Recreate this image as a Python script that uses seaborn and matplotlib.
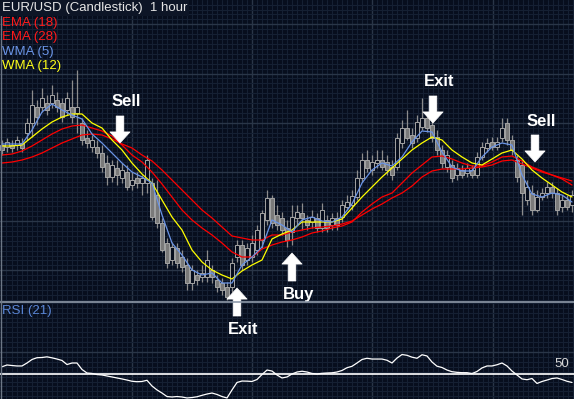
import numpy as np
import pandas as pd
import matplotlib
matplotlib.use("Agg")
import matplotlib.pyplot as plt
import seaborn as sns

# ---------------- data (prices as pips above 1.3000) ----------------
BASE = 1.3
open_pips = [557, 555, 557, 557, 559, 569, 579, 595, 595, 599,
             599, 602, 599, 592, 595, 589, 579, 564, 555, 555,
             549, 539, 525, 534, 524, 530, 517, 524, 519, 519,
             519, 507, 479, 459, 442, 454, 445, 437, 419, 427,
             425, 425, 432, 422, 419, 415, 415, 445, 457, 442,
             445, 452, 462, 482, 504, 487, 484, 474, 470, 484,
             489, 482, 480, 484, 474, 482, 477, 484, 485, 495,
             497, 505, 524, 542, 532, 539, 542, 540, 535, 535,
             559, 574, 567, 564, 575, 584, 577, 565, 552, 535,
             537, 527, 532, 529, 532, 527, 545, 554, 560, 555,
             564, 579, 562, 542, 537, 502, 509, 492, 505, 509,
             515, 509, 495, 502, 497]
close_pips = [552, 560, 554, 562, 554, 579, 597, 585, 604, 592,
              607, 595, 585, 604, 585, 595, 562, 559, 562, 549,
              535, 525, 537, 527, 532, 515, 522, 519, 524, 542,
              485, 479, 452, 439, 455, 439, 435, 419, 432, 422,
              429, 442, 425, 415, 412, 405, 439, 457, 437, 454,
              459, 472, 489, 504, 479, 477, 472, 462, 485, 490,
              484, 477, 485, 474, 492, 474, 484, 477, 497, 500,
              506, 524, 542, 534, 540, 542, 535, 532, 527, 564,
              574, 564, 559, 580, 584, 574, 564, 552, 539, 547,
              524, 534, 527, 534, 527, 545, 555, 559, 555, 560,
              574, 562, 552, 525, 509, 515, 492, 505, 509, 515,
              509, 492, 502, 495, 507]
high_pips = [562, 564, 562, 566, 564, 584, 612, 602, 614, 607,
             617, 610, 604, 610, 622, 632, 584, 572, 567, 562,
             557, 547, 542, 542, 539, 537, 530, 530, 527, 547,
             524, 522, 484, 464, 460, 459, 452, 444, 437, 432,
             437, 452, 437, 427, 424, 420, 444, 462, 462, 459,
             467, 477, 492, 512, 507, 497, 490, 482, 497, 497,
             499, 487, 492, 489, 499, 487, 489, 490, 502, 507,
             512, 532, 549, 552, 547, 552, 552, 547, 542, 569,
             582, 592, 574, 587, 604, 590, 582, 572, 557, 552,
             542, 539, 537, 539, 537, 550, 560, 564, 565, 565,
             584, 584, 567, 547, 542, 522, 517, 512, 514, 520,
             520, 514, 507, 507, 512]
low_pips = [547, 550, 550, 552, 550, 562, 565, 577, 590, 587,
            594, 590, 580, 587, 579, 569, 557, 554, 550, 544,
            530, 517, 520, 517, 519, 512, 512, 514, 507, 509,
            482, 474, 450, 434, 437, 434, 430, 412, 412, 417,
            420, 420, 419, 410, 407, 402, 410, 440, 432, 437,
            440, 447, 454, 477, 474, 472, 467, 455, 457, 477,
            472, 472, 474, 470, 470, 470, 472, 472, 480, 492,
            492, 502, 520, 530, 527, 534, 532, 527, 522, 532,
            554, 562, 554, 560, 572, 570, 560, 547, 534, 530,
            520, 522, 524, 525, 524, 524, 542, 550, 552, 552,
            560, 557, 547, 520, 487, 497, 487, 490, 502, 504,
            504, 487, 490, 492, 490]

# moving averages read every second candle
wma5_pips = [558, 558, 558, 572, 590, 598, 592, 587, 583, 568,
             559, 549, 539, 530, 525, 519, 487, 459, 447, 432,
             427, 429, 419, 419, 437, 445, 455, 482, 477, 470,
             482, 485, 481, 480, 485, 498, 519, 532, 539, 536,
             545, 560, 571, 570, 550, 535, 531, 531, 545, 555,
             559, 557, 527, 508, 505, 509, 507, 500]
wma12_pips = [556, 556, 557, 565, 573, 580, 585, 588, 588, 579,
              574, 562, 552, 539, 528, 519, 502, 485, 472, 452,
              440, 432, 427, 423, 431, 437, 442, 463, 468, 472,
              480, 480, 480, 480, 483, 494, 505, 515, 525, 534,
              543, 552, 559, 565, 562, 552, 545, 539, 537, 543,
              549, 552, 543, 532, 524, 517, 510, 505]
ema18_pips = [547, 548, 551, 556, 562, 568, 573, 576, 577, 574,
              571, 566, 557, 547, 540, 530, 518, 505, 492, 482,
              474, 467, 459, 450, 445, 445, 453, 457, 460, 462,
              465, 469, 471, 474, 476, 480, 490, 498, 505, 509,
              519, 529, 537, 545, 546, 543, 539, 536, 536, 540,
              545, 546, 541, 535, 531, 527, 523, 517]
ema28_pips = [539, 540, 542, 545, 549, 554, 559, 563, 567, 568,
              567, 563, 558, 554, 547, 541, 532, 522, 512, 502,
              492, 484, 475, 466, 464, 462, 462, 467, 467, 470,
              472, 474, 475, 476, 478, 481, 487, 493, 498, 504,
              509, 516, 525, 531, 533, 533, 533, 534, 535, 537,
              541, 542, 538, 534, 530, 527, 524, 521]

rsi21 = [56.6, 58.2, 57.7, 57.3, 57.3, 60.0, 63.2, 64.8, 65.0, 65.6,
         64.7, 63.6, 62.3, 58.6, 60.0, 60.0, 54.1, 50.9, 50.5, 49.5,
         49.1, 48.2, 47.3, 46.4, 45.5, 44.5, 43.4, 43.0, 43.2, 44.3,
         39.1, 35.5, 32.7, 29.5, 29.1, 29.5, 29.1, 28.2, 28.6, 29.3,
         30.6, 31.8, 32.7, 31.4, 29.5, 28.2, 35.5, 42.3, 43.6, 43.5,
         43.2, 45.0, 49.5, 53.6, 52.7, 49.1, 46.4, 47.3, 50.0, 51.8,
         52.5, 51.8, 50.5, 50.0, 50.6, 50.9, 51.1, 51.8, 53.2, 55.7,
         57.0, 60.0, 63.2, 64.3, 63.6, 63.6, 63.6, 62.5, 60.0, 64.5,
         67.7, 67.0, 65.3, 64.3, 67.5, 66.4, 60.9, 57.1, 55.9, 53.6,
         52.1, 51.5, 51.2, 51.2, 50.4, 52.3, 55.5, 57.3, 57.3, 58.4,
         60.0, 57.3, 52.7, 49.1, 45.5, 44.8, 45.9, 41.4, 43.2, 44.5,
         45.9, 46.4, 45.0, 43.4, 42.3]

# trade signals: label, candle position, arrow tip (pips), direction
sig_labels = ["Sell", "Exit", "Buy", "Exit", "Sell"]
sig_pos = [23.6, 47.0, 58.0, 86.2, 106.6]
sig_tip_pips = [559, 414, 449, 579, 540]
sig_dir = ["down", "up", "up", "down", "down"]

legend_names = ["EMA (18)", "EMA (28)", "WMA (5)", "WMA (12)"]
legend_colors = ["#ff1a1a", "#ff1a1a", "#6a94e6", "#ffff1a"]

# ---------------- style ----------------
BG = "#070e1d"
MINOR = "#152033"
MAJOR = "#2a3648"
sns.set_theme(style="dark", rc={"axes.facecolor": BG, "figure.facecolor": BG})
plt.rcParams["font.family"] = ["Liberation Sans", "DejaVu Sans"]

W, H = 574.0, 399.0
fig = plt.figure(figsize=(W / 100, H / 100), dpi=100, facecolor=BG)
ax_rsi = fig.add_axes([0, 0, 1, 97 / H])
ax = fig.add_axes([0, 97 / H, 1, 302 / H])
ax.set_facecolor("none")
ax_rsi.set_facecolor(BG)

def to_price(p):
    return BASE + np.asarray(p, dtype=float) / 1e4

o = to_price(open_pips)
c = to_price(close_pips)
hi = to_price(high_pips)
lo = to_price(low_pips)
idx = np.arange(len(o))
line_idx = np.arange(0, len(o), 2)

XLIM = (-0.4, 114.4)
for a in (ax, ax_rsi):
    a.set_xlim(*XLIM)
    a.set_xticks(1.9 + 24.06 * np.arange(1, 5))
    a.set_xticks(1.9 + 1.0025 * np.arange(-2, 118), minor=True)
    a.tick_params(which="both", length=0, labelleft=False, labelbottom=False)
    a.grid(which="minor", color=MINOR, lw=0.8)
    a.grid(which="major", color=MAJOR, lw=1.0)
    a.set_axisbelow(True)
    for s in a.spines.values():
        s.set_visible(False)

# price grid
ax.set_ylim(to_price(400), to_price(702))
ax.set_yticks(to_price(677.7 - 49.2 * np.arange(0, 6)))
ax.set_yticks(to_price(677.7 + 4.92 * np.arange(-56, 6)), minor=True)
ax.set_ylim(to_price(400), to_price(702))

# candles
up = c >= o
ax.vlines(idx, lo, hi, color="#8c8c8c", lw=0.9, zorder=2)
body_h = np.maximum(np.abs(c - o), 0.00008)
ax.bar(idx, body_h, bottom=np.minimum(o, c), width=0.62,
       color=np.where(up, BG, "#7a7a7a"), edgecolor="#a4a4a4",
       linewidth=0.7, zorder=3)

ma = pd.DataFrame({"idx": line_idx,
                   "EMA (28)": to_price(ema28_pips),
                   "EMA (18)": to_price(ema18_pips),
                   "WMA (12)": to_price(wma12_pips),
                   "WMA (5)": to_price(wma5_pips)})
sns.lineplot(data=ma, x="idx", y="EMA (28)", ax=ax, color="#ff0000", lw=0.9, zorder=4)
sns.lineplot(data=ma, x="idx", y="EMA (18)", ax=ax, color="#ff0000", lw=0.9, zorder=4)
sns.lineplot(data=ma, x="idx", y="WMA (12)", ax=ax, color="#ffff00", lw=0.9, zorder=5)
sns.lineplot(data=ma, x="idx", y="WMA (5)", ax=ax, color="#6a94e6", lw=0.9, zorder=6)
ax.set_xlabel("")
ax.set_ylabel("")
ax.set_xlim(*XLIM)

# signals
for lab, pos, tip, d in zip(sig_labels, sig_pos, sig_tip_pips, sig_dir):
    if d == "down":
        tail, txt = tip + 27, tip + 27 + 14
    else:
        tail, txt = tip - 28, tip - 28 - 13
    ax.annotate("", xy=(pos, to_price(tip)), xytext=(pos, to_price(tail)),
                arrowprops=dict(arrowstyle="simple,head_length=0.55,head_width=1.0,tail_width=0.38",
                                fc="white", ec="white", lw=0.5, mutation_scale=14.5,
                                shrinkA=0, shrinkB=0),
                annotation_clip=False, zorder=8)
    ax.text(pos - 1.75, to_price(txt), lab, ha="left", va="center", color="white",
            fontsize=12, fontweight="bold", zorder=8, clip_on=False)

# RSI panel
R_TOP, R_BOT = 50 + 72 / 1.1, 50 - 25 / 1.1
ax_rsi.set_ylim(R_BOT, R_TOP)
ax_rsi.set_yticks([70])
ax_rsi.set_yticks(70 + (4.92 / 1.1) * np.arange(-12, 12), minor=True)
ax_rsi.set_ylim(R_BOT, R_TOP)
ax_rsi.axhline(50, color="white", lw=1.2, zorder=3)
sns.lineplot(x=idx, y=rsi21, ax=ax_rsi, color="white", lw=0.9, zorder=4)
ax_rsi.set_xlim(*XLIM)
ax_rsi.set_xlabel("")
ax_rsi.set_ylabel("")

# panel separator and left border
fig.add_artist(plt.Line2D([0, 1], [1 - 302 / H, 1 - 302 / H], color="#8f9bab", lw=1.2))
fig.add_artist(plt.Line2D([0.5 / W, 0.5 / W], [0, 1], color="#6d7785", lw=1.0))

# texts
def fy(py):
    return 1 - py / H

fig.text(2 / W, fy(8), "EUR/USD (Candlestick)  1 hour", color="#e6e6e6", fontsize=9.5,
         va="center", ha="left",
         bbox=dict(boxstyle="square,pad=0.12", fc="#0d1526", ec="none"))
for k, (name, col) in enumerate(zip(legend_names, legend_colors)):
    fig.text(2 / W, fy(23 + 14.4 * k), name, color=col, fontsize=9.5, va="center", ha="left")
fig.text(2 / W, fy(311), "RSI (21)", color="#5a86d6", fontsize=9.5, va="center", ha="left")
fig.text(569 / W, fy(364), "50", color="#d8d8d8", fontsize=9.5, va="center", ha="right")

fig.savefig("out.png", dpi=100, facecolor=BG)
